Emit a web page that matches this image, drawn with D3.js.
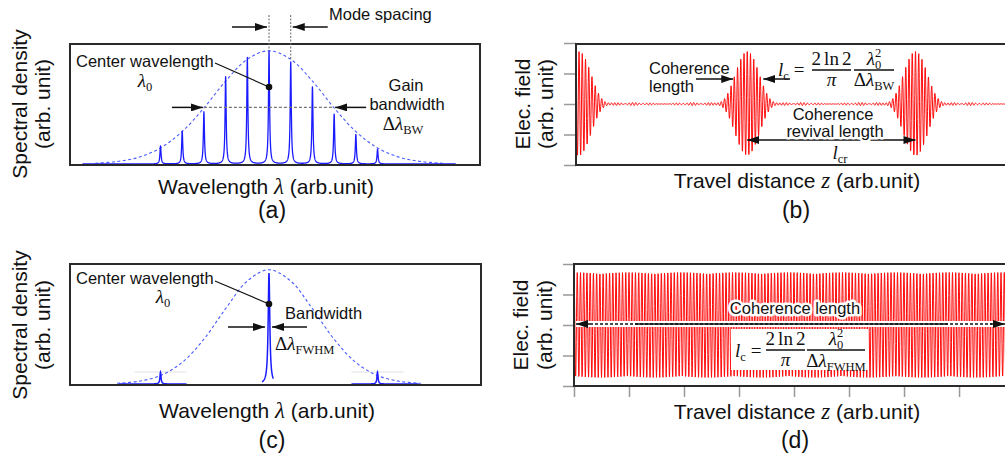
<!DOCTYPE html>
<html>
<head>
<meta charset="utf-8">
<script src="https://cdn.jsdelivr.net/npm/d3@7"></script>
<style>
  body { margin: 0; background: #fff; }
  text { font-family: "Liberation Sans", Arial, Helvetica, sans-serif; fill: #111; white-space: pre; }
  .math { font-family: "Liberation Serif", "Times New Roman", serif; }
</style>
</head>
<body>
<svg id="fig" width="1005" height="462"></svg>
<script>
// ---------------- data ----------------
// (a) longitudinal cavity modes: index relative to the centre mode and relative spectral density
const modeOffsets = [-5, -4, -3, -2, -1, 0, 1, 2, 3, 4, 5];
const modeHeights = [0.16, 0.29, 0.46, 0.77, 0.94, 1.00, 0.90, 0.68, 0.44, 0.26, 0.13];
// (a) gain envelope sampled at mode positions
const gainOffsetsA = [-8, -7, -6, -5, -4, -3, -2, -1, 0, 1, 2, 3, 4, 5, 6, 7, 8];
const gainCurveA = [0.007, 0.022, 0.060, 0.142, 0.287, 0.495, 0.732, 0.925, 1.0,
                    0.925, 0.732, 0.495, 0.287, 0.142, 0.060, 0.022, 0.007];
// (c) single-mode source: lines, their heights and the span each trace covers
const lineOffsetsC = [-5, 0, 5];
const lineHeightsC = [0.105, 0.97, 0.105];
const lineSpansC = [[-6.9, -3.8], [-0.32, 0.2], [3.8, 6.9]];
const gainOffsetsC = [-7, -6, -5, -4, -3, -2, -1, 0, 1, 2, 3, 4, 5, 6, 7];
const gainCurveC = [0.006, 0.024, 0.074, 0.189, 0.392, 0.659, 0.901, 1.0,
                    0.901, 0.659, 0.392, 0.189, 0.074, 0.024, 0.006];
// axes
const fieldTicks = [-1, -0.5, 0, 0.5, 1];
const distanceTicks = [0, 1, 2, 3, 4, 5, 6, 7, 8];
// field parameters
const peakField = 0.86;          // peak field amplitude (arb. unit)
const carrierCycles = 52;        // optical cycles per coherence revival length
const revivalSpan = [-0.018, 2.55]; // travel distance shown in (b), in revival lengths
const tickSpan = 0.327;          // travel distance per tick in (d), in revival lengths
const halfMax = 0.5;
const halfWidthModes = 3.0;      // half width (in modes) of the gain bandwidth

// ---------------- setup ----------------
const svg = d3.select("#fig");
const defs = svg.append("defs");
defs.append("marker").attr("id", "ah")
  .attr("viewBox", "0 0 12 8").attr("refX", 12).attr("refY", 4)
  .attr("markerWidth", 12).attr("markerHeight", 8)
  .attr("markerUnits", "userSpaceOnUse").attr("orient", "auto-start-reverse")
  .append("path").attr("d", "M0,0L12,4L0,8Z").attr("fill", "#111");

const BLUE = "#1b1bff", ENV = "#4a5cff", RED = "#ff0a0a", FRAME = "#2a2a2a", TICK = "#999";
const MS = 19; // math font size

function clip(id, x0, y0, x1, y1) {
  defs.append("clipPath").attr("id", id).append("rect")
    .attr("x", x0).attr("y", y0).attr("width", x1 - x0).attr("height", y1 - y0);
}
function frame(x0, y0, x1, y1) {
  svg.append("rect").attr("x", x0).attr("y", y0).attr("width", x1 - x0).attr("height", y1 - y0)
    .attr("fill", "none").attr("stroke", FRAME).attr("stroke-width", 2);
}
function arrow(x1, y1, x2, y2, both) {
  const l = svg.append("line").attr("x1", x1).attr("y1", y1).attr("x2", x2).attr("y2", y2)
    .attr("stroke", "#111").attr("stroke-width", 1.5).attr("marker-end", "url(#ah)");
  if (both) l.attr("marker-start", "url(#ah)");
  return l;
}
function label(x, y, str, size, anchor, halo) {
  const t = svg.append("text").attr("x", x).attr("y", y).attr("font-size", size || 16.5)
    .attr("text-anchor", anchor || "start").text(str);
  if (halo) t.attr("stroke", "#fff").attr("stroke-width", 5).attr("stroke-linejoin", "round")
    .attr("paint-order", "stroke");
  return t;
}
// lay out a run of math glyphs (italic symbols, sub/superscripts)
function mathRun(x, y, pieces, size, anchor) {
  const g = svg.append("g");
  let cx = 0, pending = 0;
  pieces.forEach(p => {
    cx += p.pre || 0;
    const fs = p.small ? size * 0.66 : size;
    const t = g.append("text").attr("class", "math").attr("x", cx).attr("y", p.shift || 0)
      .attr("font-size", fs).attr("font-style", p.it ? "italic" : "normal").text(p.t);
    const w = t.node().getComputedTextLength();
    if (p.stack) pending = w;
    else { cx += Math.max(w, pending); pending = 0; }
  });
  const off = anchor === "middle" ? -cx / 2 : anchor === "end" ? -cx : 0;
  g.attr("transform", `translate(${x + off},${y})`);
  return cx;
}
function fraction(cx, barY, barW, num, den, size, numBase, denBase) {
  mathRun(cx, barY - numBase, num, size, "middle");
  svg.append("line").attr("x1", cx - barW / 2).attr("x2", cx + barW / 2)
    .attr("y1", barY).attr("y2", barY).attr("stroke", "#111").attr("stroke-width", 1.3);
  mathRun(cx, barY + denBase, den, size, "middle");
}
function xTitle(cx, y, pre, sym, post) {
  const t = svg.append("text").attr("x", cx).attr("y", y).attr("text-anchor", "middle").attr("font-size", 21);
  t.append("tspan").text(pre);
  t.append("tspan").attr("class", "math").attr("font-style", "italic").attr("font-size", 23).text(sym);
  t.append("tspan").text(post);
}
function yTitle(x1, x2, cy, l1, l2) {
  [[x1, l1], [x2, l2]].forEach(([x, s]) =>
    svg.append("text").attr("transform", `translate(${x},${cy}) rotate(-90)`)
      .attr("text-anchor", "middle").attr("font-size", 21).text(s));
}
const lorentz = (x, c, h, g) => h * g * g / ((x - c) * (x - c) + g * g);
const lc = [{ t: "l", it: 1 }, { t: "c", small: 1, shift: 4 }, { t: "=", pre: 5 }];
const lam0sq = [{ t: "λ", it: 1 }, { t: "0", small: 1, shift: 4, stack: 1 }, { t: "2", small: 1, shift: -8 }];
const twoLn2 = [{ t: "2" }, { t: "ln", pre: 3 }, { t: "2", pre: 3 }];

// ---------------- (a) multimode spectrum ----------------
const xA = d3.scaleLinear().domain([-9.17, 9.72]).range([70, 480]);
const yA = d3.scaleLinear().domain([0, 1.06]).range([164, 44]);
clip("clipA", 70, 44, 480, 165);
const gA = svg.append("g").attr("clip-path", "url(#clipA)");
gA.append("path")
  .attr("d", d3.line().curve(d3.curveCatmullRom).x((d, i) => xA(gainOffsetsA[i])).y(d => yA(d))(gainCurveA))
  .attr("fill", "none").attr("stroke", ENV).attr("stroke-width", 1.1).attr("stroke-dasharray", "3,2.5");
const specX = d3.range(-8.6, 8.6001, 0.005);
gA.append("path")
  .attr("d", d3.line().x(x => xA(x))
    .y(x => yA(d3.sum(modeOffsets, (k, i) => lorentz(x, k, modeHeights[i], 0.03))))(specX))
  .attr("fill", "none").attr("stroke", BLUE).attr("stroke-width", 1.3).attr("stroke-linejoin", "round");
frame(70, 44, 480, 165);

// mode spacing markers
[0, 1].forEach(k => {
  svg.append("line").attr("x1", xA(k)).attr("x2", xA(k)).attr("y1", 15)
    .attr("y2", yA(gainCurveA[gainOffsetsA.indexOf(k)]))
    .attr("stroke", "#666").attr("stroke-width", 1).attr("stroke-dasharray", "2,1.5");
});
arrow(xA(0) - 37, 27, xA(0) - 2, 27);
arrow(xA(1) + 37, 27, xA(1) + 2, 27);
label(329, 20, "Mode spacing");

// centre wavelength pointer
label(76, 67, "Center wavelength");
mathRun(145, 87, [{ t: "λ", it: 1 }, { t: "0", small: 1, shift: 4 }], MS, "middle");
svg.append("line").attr("x1", 215).attr("y1", 63).attr("x2", xA(0)).attr("y2", 87)
  .attr("stroke", "#111").attr("stroke-width", 1.2);
svg.append("circle").attr("cx", xA(0)).attr("cy", 87).attr("r", 3.3).attr("fill", "#111");

// gain bandwidth (FWHM of the envelope)
svg.append("line").attr("x1", xA(-halfWidthModes)).attr("x2", xA(halfWidthModes))
  .attr("y1", yA(halfMax)).attr("y2", yA(halfMax))
  .attr("stroke", "#777").attr("stroke-width", 1.1).attr("stroke-dasharray", "3,2");
arrow(xA(-halfWidthModes) - 32, yA(halfMax), xA(-halfWidthModes) - 1, yA(halfMax));
arrow(xA(halfWidthModes) + 32, yA(halfMax), xA(halfWidthModes) + 1, yA(halfMax));
label(406, 91, "Gain", 16.5, "middle");
label(407, 110, "bandwidth", 16.5, "middle");
mathRun(403, 130, [{ t: "Δ" }, { t: "λ", it: 1 }, { t: "BW", small: 1, shift: 4 }], MS, "middle");

yTitle(27, 50, 104, "Spectral density", "(arb. unit)");
xTitle(266, 194, "Wavelength ", "λ", " (arb.unit)");
label(272, 218, "(a)", 23, "middle");

// ---------------- (b) field of the multimode source ----------------
const xB = d3.scaleLinear().domain(revivalSpan).range([576, 1008]);
const yB = d3.scaleLinear().domain([-1, 1]).range([165, 43]);
const ampSum = d3.sum(modeHeights);
const nB = 1728;
const zB = d3.range(nB + 1).map(i => revivalSpan[0] + i * (revivalSpan[1] - revivalSpan[0]) / nB);
const fieldB = zB.map(z => peakField *
  d3.sum(modeOffsets, (k, i) => modeHeights[i] * Math.cos(2 * Math.PI * (carrierCycles + k) * z)) / ampSum);
clip("clipB", 576, 44, 1008, 165);
svg.append("g").attr("clip-path", "url(#clipB)").append("path")
  .attr("d", d3.line().x((d, i) => xB(zB[i])).y(d => yB(d))(fieldB))
  .attr("fill", "none").attr("stroke", RED).attr("stroke-width", 1);
const axB = svg.append("g").attr("transform", "translate(576,0)")
  .call(d3.axisLeft(yB).tickValues(fieldTicks).tickSize(12).tickSizeOuter(0).tickFormat(""));
axB.select(".domain").remove();
axB.selectAll("line").attr("stroke", TICK).attr("stroke-width", 1.5);
frame(576, 44, 1010, 165);

// coherence length around the first revival
label(649, 74, "Coherence");
label(649, 92, "length");
arrow(696, 79, xB(1) - 14, 79);
arrow(790, 79, xB(1) + 16, 79);
mathRun(778, 76, lc, MS, "start");
fraction(831.5, 70, 39, twoLn2, [{ t: "π", it: 1 }], MS, 5, 16);
fraction(874, 70, 40, lam0sq,
  [{ t: "Δ" }, { t: "λ", it: 1 }, { t: "BW", small: 1, shift: 4 }], MS, 5, 16);

// coherence revival length between successive packets
arrow(xB(1), 140, xB(2), 140, true);
label(833, 120, "Coherence", 16.5, "middle", true);
label(835, 136.5, "revival length", 16.5, "middle", true);
mathRun(840, 159, [{ t: "l", it: 1 }, { t: "cr", small: 1, shift: 4 }], MS, "middle");

yTitle(530, 553, 104, "Elec. field", "(arb. unit)");
xTitle(797, 188, "Travel distance ", "z", " (arb.unit)");
label(796, 218, "(b)", 23, "middle");

// ---------------- (c) single-mode spectrum ----------------
const xC = d3.scaleLinear().domain([-9.17, 9.77]).range([70, 481]);
const yC = d3.scaleLinear().domain([0, 1.05]).range([384, 264]);
clip("clipC", 70, 264, 481, 385);
const gC = svg.append("g").attr("clip-path", "url(#clipC)");
[0, 2].forEach(i => {
  gC.append("line").attr("x1", xC(lineOffsetsC[i] - 1.2)).attr("x2", xC(lineOffsetsC[i] + 1.2))
    .attr("y1", yC(lineHeightsC[i])).attr("y2", yC(lineHeightsC[i]))
    .attr("stroke", "#e2e2e2").attr("stroke-width", 1);
});
gC.append("path")
  .attr("d", d3.line().curve(d3.curveCatmullRom).x((d, i) => xC(gainOffsetsC[i])).y(d => yC(d))(gainCurveC))
  .attr("fill", "none").attr("stroke", ENV).attr("stroke-width", 1.1).attr("stroke-dasharray", "3,2.5");
lineOffsetsC.forEach((c, i) => {
  const xs = d3.range(lineSpansC[i][0], lineSpansC[i][1] + 0.0001, 0.005);
  gC.append("path")
    .attr("d", d3.line().x(x => xC(x)).y(x => yC(lorentz(x, c, lineHeightsC[i], i === 1 ? 0.045 : 0.03)))(xs))
    .attr("fill", "none").attr("stroke", BLUE).attr("stroke-width", 1.5);
});
frame(70, 264, 481, 385);

label(76, 284, "Center wavelength");
mathRun(163, 303, [{ t: "λ", it: 1 }, { t: "0", small: 1, shift: 4 }], MS, "middle");
svg.append("line").attr("x1", 215).attr("y1", 281).attr("x2", xC(0)).attr("y2", 304)
  .attr("stroke", "#111").attr("stroke-width", 1.2);
svg.append("circle").attr("cx", xC(0)).attr("cy", 304).attr("r", 3.3).attr("fill", "#111");
label(285, 319, "Bandwidth");
arrow(228, 327, xC(0) - 4, 327);
arrow(307, 327, xC(0) + 3, 327);
mathRun(275, 350, [{ t: "Δ" }, { t: "λ", it: 1 }, { t: "FWHM", small: 1, shift: 4 }], MS, "start");

yTitle(27, 50, 325, "Spectral density", "(arb. unit)");
xTitle(267, 418, "Wavelength ", "λ", " (arb.unit)");
label(272, 448, "(c)", 23, "middle");

// ---------------- (d) field of the single-mode source ----------------
const xD = d3.scaleLinear().domain([0, 7.89]).range([574, 1008]);
const yD = d3.scaleLinear().domain([-1, 1]).range([386, 264]);
const nD = 1736;
const zD = d3.range(nD + 1).map(i => i * 7.89 / nD);
const fieldD = zD.map(z => peakField * Math.cos(2 * Math.PI * carrierCycles * tickSpan * z));
clip("clipD", 574, 264, 1008, 386);
svg.append("g").attr("clip-path", "url(#clipD)").append("path")
  .attr("d", d3.line().x((d, i) => xD(zD[i])).y(d => yD(d))(fieldD))
  .attr("fill", "none").attr("stroke", RED).attr("stroke-width", 1);
const axDy = svg.append("g").attr("transform", "translate(574,0)")
  .call(d3.axisLeft(yD).tickValues(fieldTicks).tickSize(11).tickSizeOuter(0).tickFormat(""));
axDy.select(".domain").remove();
axDy.selectAll("line").attr("stroke", TICK).attr("stroke-width", 1.5);
const axDx = svg.append("g").attr("transform", "translate(0,386)")
  .call(d3.axisBottom(xD).tickValues(distanceTicks).tickSize(11).tickSizeOuter(0).tickFormat(""));
axDx.select(".domain").remove();
axDx.selectAll("line").attr("stroke", TICK).attr("stroke-width", 1.5);
frame(574, 264, 1010, 386);

// coherence length spans the whole window
svg.append("line").attr("x1", 576).attr("x2", 1005).attr("y1", 324).attr("y2", 324)
  .attr("stroke", "#fff").attr("stroke-width", 6);
arrow(590, 324, 576, 324);
svg.append("line").attr("x1", 590).attr("x2", 992).attr("y1", 324).attr("y2", 324)
  .attr("stroke", "#111").attr("stroke-width", 1.5).attr("stroke-dasharray", "3,2");
svg.append("line").attr("x1", 635).attr("x2", 948).attr("y1", 324).attr("y2", 324)
  .attr("stroke", "#111").attr("stroke-width", 1.5);
arrow(990, 324, 1005, 324);
label(795, 314, "Coherence length", 16.5, "middle", true);
svg.append("rect").attr("x", 731).attr("y", 329).attr("width", 137).attr("height", 41).attr("fill", "#fff");
mathRun(735, 357, lc, MS, "start");
fraction(785.5, 350, 39, twoLn2, [{ t: "π", it: 1 }], MS, 5, 16);
fraction(836, 350, 58, lam0sq,
  [{ t: "Δ" }, { t: "λ", it: 1 }, { t: "FWHM", small: 1, shift: 4 }], MS, 5, 17);

yTitle(528, 552, 325, "Elec. field", "(arb. unit)");
xTitle(797, 419, "Travel distance ", "z", " (arb.unit)");
label(795, 448, "(d)", 23, "middle");
</script>
</body>
</html>
